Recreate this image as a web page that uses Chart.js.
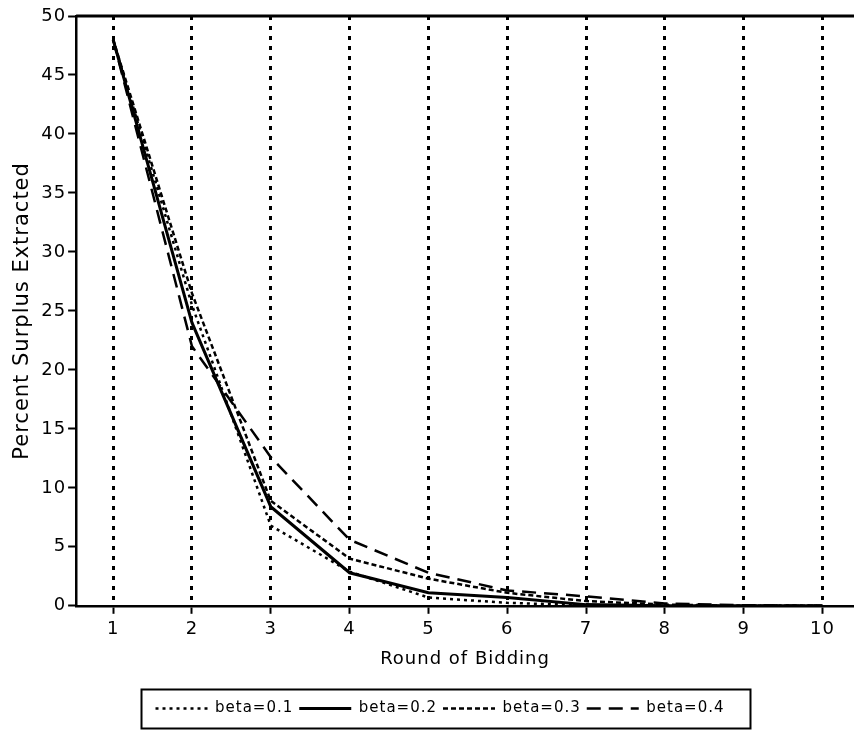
<!DOCTYPE html>
<html>
<head>
<meta charset="utf-8">
<script src="https://cdn.jsdelivr.net/npm/chart.js@4/dist/chart.umd.min.js"></script>
<style>
  html, body { margin: 0; padding: 0; background: #fff; }
  #wrap { width: 854px; height: 730px; }
</style>
</head>
<body>
<div id="wrap"><canvas id="surplusChart"></canvas></div>
<script>
// values
const rounds = [1, 2, 3, 4, 5, 6, 7, 8, 9, 10];
const beta01 = [48, 25.5, 6.8, 2.9, 0.7, 0.25, 0.05, 0, 0, 0];
const beta02 = [48, 24, 8.4, 2.8, 1.1, 0.7, 0.1, 0, 0, 0];
const beta03 = [48, 26.5, 8.9, 4.0, 2.3, 1.1, 0.4, 0.1, 0, 0];
const beta04 = [48, 22, 12.6, 5.6, 2.8, 1.3, 0.8, 0.2, 0.05, 0];
const seriesLabels = ["beta=0.1", "beta=0.2", "beta=0.3", "beta=0.4"];
const yTicks = [0, 5, 10, 15, 20, 25, 30, 35, 40, 45, 50];

const seriesValues = [beta01, beta02, beta03, beta04];
const dashes = [[3, 4], [], [5, 3], [14, 8]];
const widths = [2.5, 3, 2.5, 2.5];

const FONT = "'DejaVu Sans', sans-serif";
const LEGEND_SHIFT = 10;

const framePlugin = {
    id: "frame",
    beforeUpdate(chart) {
        chart.ctx.letterSpacing = "1px";
    },
    afterLayout(chart) {
        // legend sits a little right of the canvas centre in the original
        chart.legend.left += LEGEND_SHIFT;
        chart.legend.right += LEGEND_SHIFT;
    },
    beforeDraw(chart) {
        chart.ctx.letterSpacing = "1px";
    },
    afterDraw(chart) {
        const ctx = chart.ctx;
        const area = chart.chartArea;
        ctx.save();
        ctx.strokeStyle = "#000";

        // top frame line
        ctx.lineWidth = 3;
        ctx.beginPath();
        ctx.moveTo(area.left, area.top);
        ctx.lineTo(area.right, area.top);
        ctx.stroke();

        // legend line samples and box
        const boxes = chart.legend.legendHitBoxes;
        const boxWidth = chart.legend.options.labels.boxWidth;
        boxes.forEach((hb, i) => {
            const cy = hb.top + hb.height / 2;
            ctx.lineWidth = widths[i];
            ctx.setLineDash(dashes[i]);
            ctx.beginPath();
            ctx.moveTo(hb.left, cy);
            ctx.lineTo(hb.left + boxWidth, cy);
            ctx.stroke();
        });
        ctx.setLineDash([]);
        if (boxes.length) {
            const first = boxes[0];
            const last = boxes[boxes.length - 1];
            const cy = first.top + first.height / 2;
            const x0 = first.left - 14;
            const x1 = last.left + last.width + 26;
            ctx.lineWidth = 2;
            ctx.strokeRect(x0, cy - 19, x1 - x0, 39);
        }
        ctx.restore();
    }
};

new Chart(document.getElementById("surplusChart"), {
    type: "line",
    data: {
        datasets: seriesLabels.map((label, i) => ({
            label: label,
            data: rounds.map((r, j) => ({ x: r, y: seriesValues[i][j] })),
            borderColor: "#000",
            backgroundColor: "#000",
            borderWidth: widths[i],
            borderDash: dashes[i],
            pointRadius: 0,
            tension: 0,
            fill: false,
        })),
    },
    options: {
        responsive: true,
        maintainAspectRatio: false,
        animation: false,
        layout: {
            padding: { left: 6, top: 16, right: 0, bottom: 4 },
        },
        scales: {
            x: {
                type: "linear",
                min: 0.53,
                max: 10.4,
                afterBuildTicks: (scale) => {
                    scale.ticks = rounds.map((v) => ({ value: v }));
                },
                grid: {
                    color: "#000",
                    lineWidth: 3,
                    tickLength: 8,
                    tickColor: "#000",
                    tickWidth: 2,
                },
                border: { color: "#000", width: 2.5, dash: [4, 6] },
                ticks: {
                    color: "#000",
                    font: { family: FONT, size: 18 },
                    padding: 5,
                    maxRotation: 0,
                    autoSkip: false,
                },
                title: {
                    display: true,
                    text: "Round of Bidding",
                    color: "#000",
                    font: { family: FONT, size: 18 },
                    padding: { top: 3, bottom: 25 },
                },
            },
            y: {
                min: 0,
                max: 50,
                afterBuildTicks: (scale) => {
                    scale.ticks = yTicks.map((v) => ({ value: v }));
                },
                grid: {
                    drawOnChartArea: false,
                    tickLength: 8,
                    tickColor: "#000",
                    tickWidth: 2,
                },
                border: { color: "#000", width: 2.5 },
                ticks: {
                    color: "#000",
                    font: { family: FONT, size: 18 },
                    padding: 2,
                },
                title: {
                    display: true,
                    text: "Percent Surplus Extracted",
                    color: "#000",
                    font: { family: FONT, size: 21 },
                    padding: { top: 4, bottom: 4 },
                },
            },
        },
        plugins: {
            tooltip: { enabled: false },
            legend: {
                position: "bottom",
                labels: {
                    color: "#000",
                    font: { family: FONT, size: 15 },
                    boxWidth: 52,
                    boxHeight: 0,
                    padding: 6,
                    generateLabels: (chart) =>
                        Chart.defaults.plugins.legend.labels.generateLabels(chart).map((item) => ({
                            ...item,
                            fillStyle: "rgba(0,0,0,0)",
                            strokeStyle: "rgba(0,0,0,0)",
                            lineWidth: 0,
                        })),
                },
            },
        },
    },
    plugins: [framePlugin],
});
</script>
</body>
</html>
